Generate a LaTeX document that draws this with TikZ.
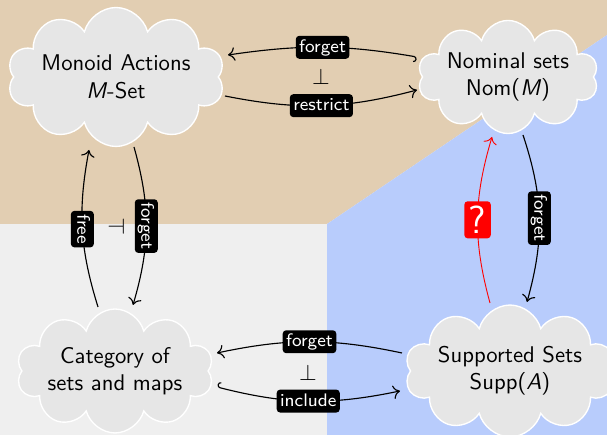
\documentclass[tikz,border=0pt]{standalone}
\usepackage{fontspec}
\renewcommand\familydefault{\sfdefault}
\usetikzlibrary{shapes.symbols,arrows.meta}
\definecolor{bgtan}{RGB}{226,206,178}
\definecolor{bgblue}{RGB}{184,204,252}
\definecolor{bggray}{RGB}{239,239,239}
\definecolor{cloudgray}{RGB}{230,230,230}
\begin{document}
\begin{tikzpicture}[x=0.4405pt,y=0.4405pt,
  world/.style={cloud, cloud puffs=10, cloud ignores aspect, fill=cloudgray,
    draw=white, line width=0.6pt, align=center, inner sep=0pt},
  lbl/.style={fill=black, text=white, rounded corners=1.5pt, font=\footnotesize,
    inner xsep=1.5pt, inner ysep=1.25pt, text height=6pt, text depth=1.6pt},
  qlbl/.style={fill=red, text=white, rounded corners=1.5pt, font=\LARGE,
    inner xsep=2pt, inner ysep=2.1pt},
  fun/.style={line width=0.5pt, -{To[length=3pt,width=6pt]}},
  incl/.style={line width=0.5pt, {Hooks[right]}-{To[length=3pt,width=6pt]}},
]
% coloured regions
\fill[bgtan] (0,435) -- (607,435) -- (607,400) -- (327,211) -- (0,211) -- cycle;
\fill[bggray] (0,211) -- (327,211) -- (327,0) -- (0,0) -- cycle;
\fill[bgblue] (327,211) -- (607,400) -- (607,0) -- (327,0) -- cycle;
\useasboundingbox (0,0) rectangle (607,435);

% categories
\node[world, minimum width=95.6pt, minimum height=61.2pt] (ma) at (116,358)
  {Monoid Actions\\\textit{M}-Set};
\node[world, minimum width=78pt, minimum height=49.8pt] (nom) at (508,358)
  {Nominal sets\\Nom(\textit{M})};
\node[world, minimum width=85.5pt, minimum height=54.6pt] (cat) at (115,64)
  {Category of\\sets and maps};
\node[world, minimum width=92.5pt, minimum height=58.1pt] (supp) at (510,64)
  {Supported Sets\\Supp(\textit{A})};

% functors
\draw[incl] ([shift={(-91,20)}]nom.center) to[bend right=9]
  node[lbl] (f1) {forget} ([shift={(112,22)}]ma.center);
\draw[fun] ([shift={(109,-19)}]ma.center) to[bend right=13]
  node[lbl] (f2) {restrict} ([shift={(-91,-13)}]nom.center);
\draw[fun] ([shift={(-17,64)}]cat.center) to[bend left=14]
  node[lbl, rotate=-90] (f3) {free} ([shift={(-27,-73)}]ma.center);
\draw[fun] ([shift={(18,-70)}]ma.center) to[bend left=16]
  node[lbl, rotate=-90] (f4) {forget} ([shift={(18,66)}]cat.center);
\draw[fun, red, line width=0.4pt] ([shift={(-20,68)}]supp.center) to[bend left=16]
  node[qlbl] (f5) {?} ([shift={(-16,-60)}]nom.center);
\draw[fun] ([shift={(15,-58)}]nom.center) to[bend left=17]
  node[lbl, rotate=-90] (f6) {forget} ([shift={(17,69)}]supp.center);
\draw[fun] ([shift={(-108,18)}]supp.center) to[bend right=12]
  node[lbl] (f7) {forget} ([shift={(102,18)}]cat.center);
\draw[incl] ([shift={(102,-16)}]cat.center) to[bend right=13]
  node[lbl] (f8) {include} ([shift={(-110,-20)}]supp.center);

% adjunctions
\node (adjtop) at (321,358) {$\perp$};
\node (adjbot) at (308,62) {$\perp$};
\node[rotate=90] (adjleft) at (116,208) {$\perp$};
\end{tikzpicture}
\end{document}
